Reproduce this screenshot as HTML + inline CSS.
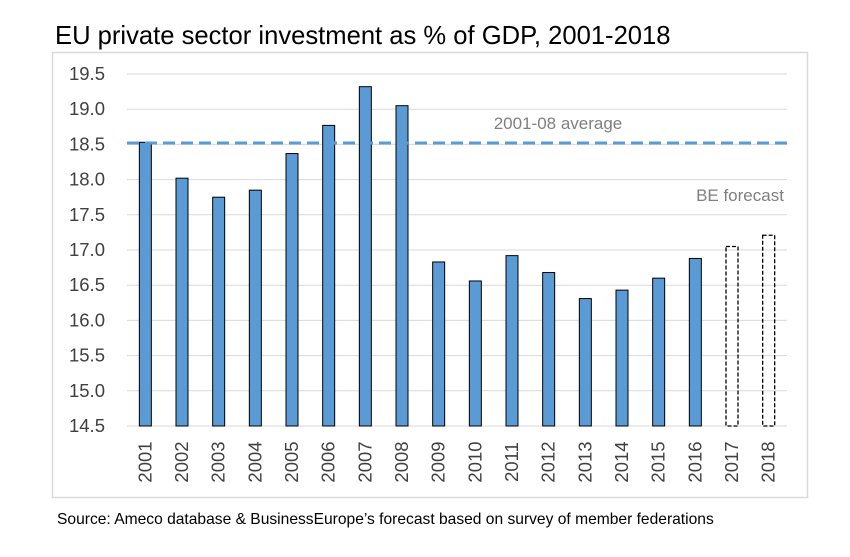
<!DOCTYPE html>
<html><head><meta charset="utf-8"><style>
body{margin:0;background:#fff;width:850px;height:552px;overflow:hidden;font-family:"Liberation Sans",Arial,sans-serif}
</style></head><body>
<svg width="850" height="552" xmlns="http://www.w3.org/2000/svg">
<text x="55" y="44" font-size="25.6" fill="#000">EU private sector investment as % of GDP, 2001-2018</text>
<rect x="52.5" y="52.5" width="755" height="445" fill="none" stroke="#d9d9d9" stroke-width="1.5"/>
<g id="grid"></g><g id="bars"></g><g id="ylab"></g><g id="xlab"></g>
<text x="558" y="129" font-size="17" fill="#7f7f7f" text-anchor="middle">2001-08 average</text>
<text x="740" y="201" font-size="17" fill="#7f7f7f" text-anchor="middle">BE forecast</text>
<text x="57" y="524" font-size="15.6" fill="#000">Source: Ameco database &amp; BusinessEurope’s forecast based on survey of member federations</text>
</svg>
<script>
const years=["2001","2002","2003","2004","2005","2006","2007","2008","2009","2010","2011","2012","2013","2014","2015","2016","2017","2018"];
const values=[18.53,18.02,17.75,17.85,18.37,18.77,19.32,19.05,16.83,16.56,16.92,16.68,16.31,16.43,16.60,16.88,17.05,17.21];
const forecast=[false,false,false,false,false,false,false,false,false,false,false,false,false,false,false,false,true,true];
const yTicks=[14.5,15.0,15.5,16.0,16.5,17.0,17.5,18.0,18.5,19.0,19.5];
const average=[18.52];
const NS="http://www.w3.org/2000/svg";
const x0=127,x1=787,yMin=14.5,yMax=19.5,yTop=74,yBot=426;
const band=(x1-x0)/years.length;
const xs=i=>x0+band*(i+0.5);
const ys=v=>yBot-(v-yMin)/(yMax-yMin)*(yBot-yTop);
function mk(t,a,p){const e=document.createElementNS(NS,t);for(const k in a)e.setAttribute(k,a[k]);p.appendChild(e);return e;}
const grid=document.getElementById('grid'),ylab=document.getElementById('ylab'),bars=document.getElementById('bars'),xlab=document.getElementById('xlab');
yTicks.forEach(v=>{
 const l=mk('line',{x1:x0,x2:x1,y1:ys(v),y2:ys(v),stroke:'#d9d9d9','stroke-width':1},grid);
 
 
 const t=mk('text',{x:105,y:ys(v)+6,'font-size':18.5,fill:'#404040','text-anchor':'end'},ylab);
 t.textContent=v.toFixed(1);
 
 
});
years.forEach((y,i)=>{
 const w=12,cx=xs(i),top=ys(values[i]);
 const r=mk('rect',{x:cx-w/2,y:top,width:w,height:yBot-top},bars);
 if(forecast[i]){r.setAttribute('fill','none');r.setAttribute('stroke','#000');r.setAttribute('stroke-dasharray','4 2');r.setAttribute('stroke-width','1.3');}
 else{r.setAttribute('fill','#5b9bd5');r.setAttribute('stroke','#000');r.setAttribute('stroke-width','1');}
 
 
 const t=mk('text',{x:0,y:0,'font-size':18.5,fill:'#404040','text-anchor':'middle',transform:`translate(${cx+6},462) rotate(-90)`},xlab);
 t.textContent=y;
 
 
});
const a=mk('line',{x1:x0,x2:x1+3,y1:ys(average[0]),y2:ys(average[0]),stroke:'#5b9bd5','stroke-width':3,'stroke-dasharray':'12 6'},bars);


</script>
</body></html>
